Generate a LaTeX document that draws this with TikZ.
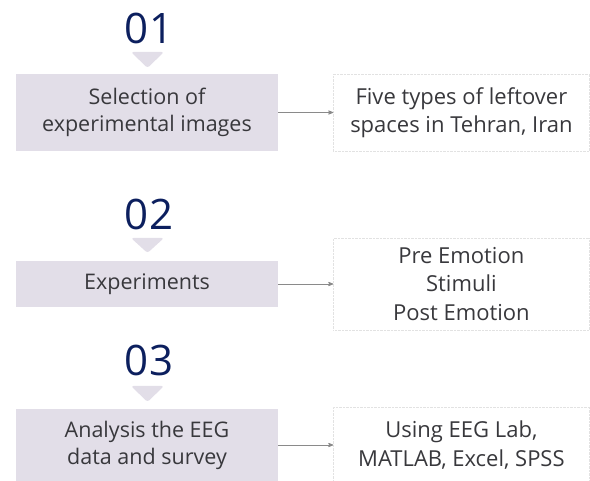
\documentclass[tikz,border=0pt]{standalone}
\usepackage{fontspec}
\setmainfont{Open Sans}
\usepackage{xcolor}
\usepackage{tikz}
\usetikzlibrary{arrows}
\usetikzlibrary{positioning}
\definecolor{stagefill}{HTML}{E2DEE8}
\definecolor{numblue}{HTML}{0C1F5E}
\definecolor{txtgray}{HTML}{38383C}
\definecolor{boxline}{HTML}{E2E2E2}
\definecolor{linkgray}{HTML}{8A8A8A}
\tikzset{
	stage/.style={rectangle,fill=stagefill,text=txtgray,minimum width=262pt,inner sep=0pt,
		align=center,font=\fontsize{21.5}{27}\selectfont},
	result/.style={rectangle,draw=boxline,densely dotted,minimum width=256pt,inner sep=0pt,
		align=center,text=txtgray,font=\fontsize{22}{28.5}\selectfont},
	num/.style={text=numblue,inner sep=0pt,font=\fontsize{42}{42}\selectfont},
	marker/.style={fill=stagefill,rounded corners=2.5pt},
	link/.style={->,>=stealth',draw=linkgray,line width=0.8pt}
}

\begin{document}
\begin{tikzpicture}[x=1pt,y=-1pt]
	\useasboundingbox (0,0) rectangle (590,481);
	% step numbers
	\node[num] (n1) at (149,28) {01};
	\node[num] (n2) at (149,214) {02};
	\node[num] (n3) at (149,360) {03};
	\fill[marker] (131,52) -- (164,52) -- (147.5,68) -- cycle;
	\fill[marker] (131,238) -- (164,238) -- (147.5,253) -- cycle;
	\fill[marker] (131,386) -- (164,386) -- (147.5,402) -- cycle;
	% left column
	\node[stage,minimum height=77pt] (sel) at (147,112.5) {Selection of\\experimental images};
	\node[stage,minimum height=46pt] (exp) at (147,284) {Experiments};
	\node[stage,minimum height=72pt] (ana) at (147,445) {Analysis the EEG\\data and survey};
	% right column
	\node[result,minimum height=77pt,right=55pt of sel] (spaces) {Five types of leftover\\spaces in Tehran, Iran};
	\node[result,minimum height=92pt,right=55pt of exp] (emo) {Pre Emotion\\Stimuli\\Post Emotion};
	\node[result,minimum height=76pt,right=55pt of ana] (tools) {Using EEG Lab,\\MATLAB, Excel, SPSS};
	\draw[link] (sel) -- (spaces);
	\draw[link] (exp) -- (emo);
	\draw[link] (ana) -- (tools);
\end{tikzpicture}
\end{document}
